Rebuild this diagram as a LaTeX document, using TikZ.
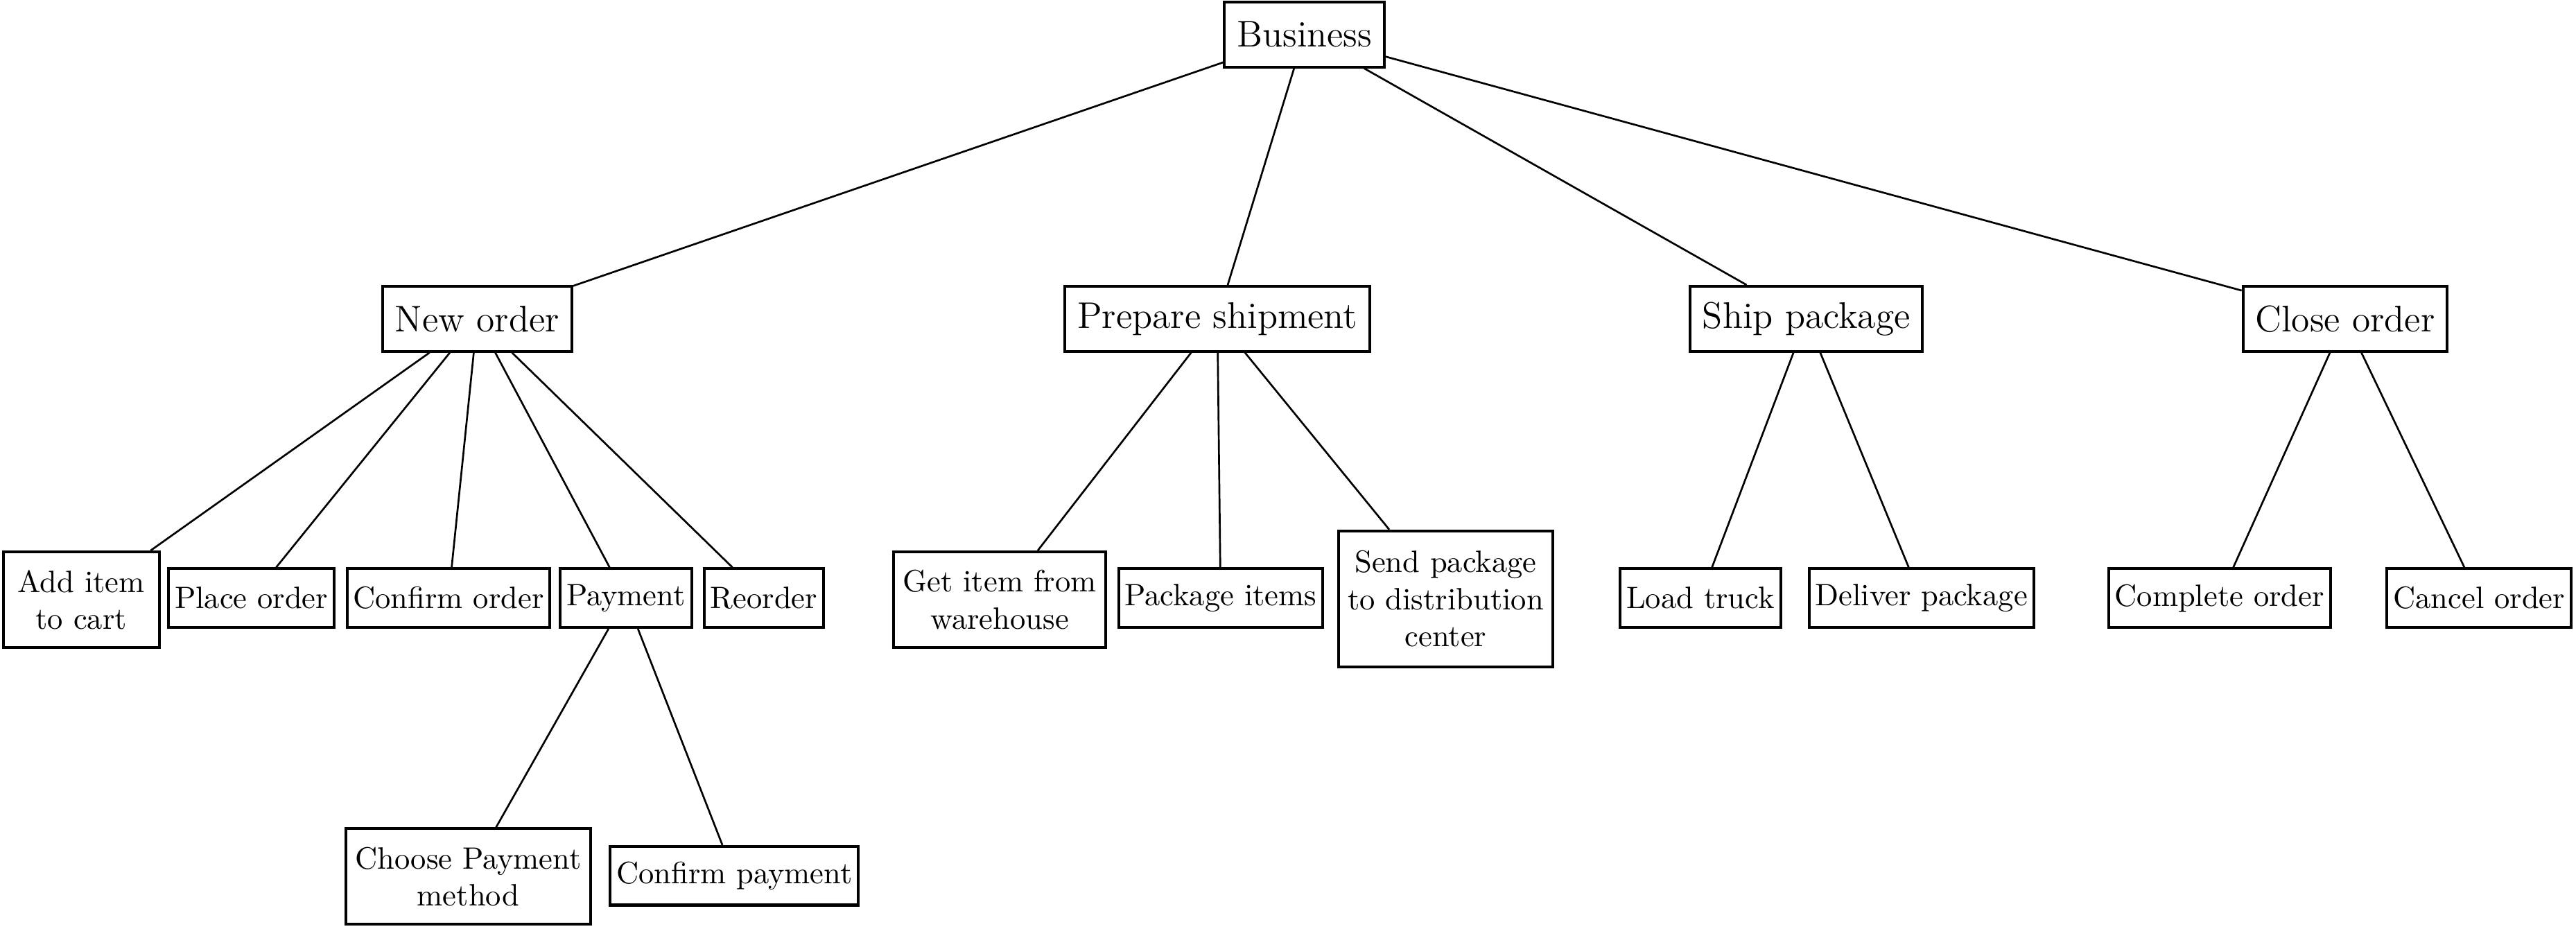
\documentclass[tikz,border=0pt]{standalone}
\usepackage{tikz}
\usetikzlibrary{positioning}

\tikzset{
  topbox/.style={draw, line width=0.9pt, font=\large, minimum height=21pt, inner xsep=4pt},
  leafbox/.style={draw, line width=0.9pt, align=center, minimum height=19pt, inner xsep=2pt},
  multibox/.style={leafbox, inner xsep=3pt, minimum height=31pt},
  link/.style={line width=0.6pt}
}

\begin{document}
\begin{tikzpicture}[x=0.532pt,y=0.532pt,yscale=-1,xscale=1]
\path[use as bounding box] (0,0) rectangle (1568,565);

% Root
\node [topbox] (business) at (794,21) {Business};

% Main steps
\node [topbox] (neworder) at (290.5,194) {New order};
\node [topbox] (prepare) at (741,194) {Prepare shipment};
\node [topbox] (ship) at (1099.5,194) {Ship package};
\node [topbox] (close) at (1427.5,194) {Close order};

% New order steps
\node [multibox, minimum width=50.5pt] (additem) at (49.5,365) {Add item\\to cart};
\node [leafbox] (placeorder) at (153,364) {Place order};
\node [leafbox] (confirmorder) at (273,364) {Confirm order};
\node [leafbox] (payment) at (381,364) {Payment};
\node [leafbox] (reorder) at (465,364) {Reorder};

% Payment steps
\node [multibox] (choosepay) at (285,533.5) {Choose Payment\\method};
\node [leafbox] (confirmpay) at (447,533) {Confirm payment};

% Shipment steps
\node [multibox] (getitem) at (608.5,365) {Get item from\\warehouse};
\node [leafbox] (packitems) at (743,364) {Package items};
\node [multibox, minimum height=44pt] (sendpack) at (880,364.5) {Send package\\to distribution\\center};

% Shipping steps
\node [leafbox] (loadtruck) at (1035,364) {Load truck};
\node [leafbox] (deliver) at (1169.5,364) {Deliver package};

% Closing steps
\node [leafbox] (complete) at (1351,364) {Complete order};
\node [leafbox] (cancel) at (1509,364) {Cancel order};

% Lines
\foreach \child in {neworder,prepare,ship,close}
  \draw [link] (business) -- (\child);
\foreach \child in {additem,placeorder,confirmorder,payment,reorder}
  \draw [link] (neworder) -- (\child);
\foreach \child in {choosepay,confirmpay}
  \draw [link] (payment) -- (\child);
\foreach \child in {getitem,packitems,sendpack}
  \draw [link] (prepare) -- (\child);
\foreach \child in {loadtruck,deliver}
  \draw [link] (ship) -- (\child);
\foreach \child in {complete,cancel}
  \draw [link] (close) -- (\child);

\end{tikzpicture}
\end{document}
